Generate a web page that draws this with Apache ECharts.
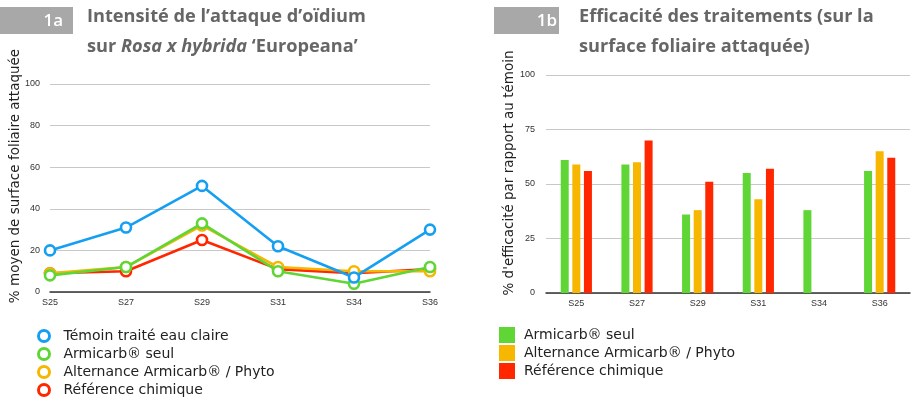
<!DOCTYPE html>
<html>
<head>
<meta charset="utf-8">
<script src="https://cdn.jsdelivr.net/npm/echarts@6/dist/echarts.min.js"></script>
<style>
  html, body { margin: 0; padding: 0; background: #fff; }
  #wrap { position: relative; width: 912px; height: 400px; }
  #c1 { position: absolute; left: 0; top: 0; width: 456px; height: 400px; }
  #c2 { position: absolute; left: 456px; top: 0; width: 456px; height: 400px; }
</style>
</head>
<body>
<div id="wrap"><div id="c1"></div><div id="c2"></div></div>
<script>
// Sampling weeks
const weeks = ['S25', 'S27', 'S29', 'S31', 'S34', 'S36'];

// 1a — mean % of leaf area attacked
const temoin = [20, 31, 51, 22, 7, 30];
const armicarbSeul = [8, 12, 33, 10, 4, 12];
const alternance = [9, 12, 32, 12, 10, 10];
const referenceChim = [9, 10, 25, 11, 9, 11];
const yTicks1 = [0, 20, 40, 60, 80, 100];

// 1b — % efficacy compared with the untreated control
const effArmicarb = [61, 59, 36, 55, 38, 56];
const effAlternance = [59, 60, 38, 43, null, 65];
const effReference = [56, 70, 51, 57, null, 62];
const yTicks2 = [0, 25, 50, 75, 100];

const names = ['Témoin traité eau claire', 'Armicarb® seul', 'Alternance Armicarb® / Phyto', 'Référence chimique'];
const colors = { blue: '#159FF2', green: '#5FD636', orange: '#F7B600', red: '#FF2600' };

const sans = '"Liberation Sans", Arial, sans-serif';
const wide = '"DejaVu Sans", Verdana, sans-serif';
const titleFont = '"Open Sans", "Noto Sans", sans-serif';

function lineSeries(name, data, color, z) {
  return {
    name, type: 'line', data, z,
    symbol: 'circle', symbolSize: 10,
    lineStyle: { color, width: 2.6 },
    itemStyle: { color: '#fff', borderColor: color, borderWidth: 2.6 },
    emphasis: { disabled: true },
    animation: false
  };
}

const chart1 = echarts.init(document.getElementById('c1'));
chart1.setOption({
  animation: false,
  title: {
    left: 87, top: 2, padding: 0,
    text: '{a|Intensité de l’attaque d’oïdium}\n{a|sur }{i|Rosa x hybrida}{a| ‘Europeana’}',
    textStyle: {
      rich: {
        a: { fontFamily: titleFont, fontWeight: 'bold', fontSize: 18.2, color: '#666', lineHeight: 30 },
        i: { fontFamily: titleFont, fontWeight: 'bold', fontStyle: 'italic', fontSize: 18.2, color: '#666', lineHeight: 30 }
      }
    }
  },
  graphic: [
    { type: 'rect', shape: { x: 0, y: 7, width: 73, height: 27 }, style: { fill: '#A8A8A8' }, silent: true },
    { type: 'text', x: 63, y: 21, style: { text: '1a', fill: '#fff', font: '600 17px ' + titleFont, align: 'right', verticalAlign: 'middle' } },
    { type: 'text', x: 15, y: 176, rotation: Math.PI / 2, style: { text: '% moyen de surface foliaire attaquée', fill: '#222', font: '13.5px ' + wide, align: 'center', verticalAlign: 'middle' } }
  ],
  grid: { left: 50, right: 26, top: 84, bottom: 108 },
  xAxis: {
    type: 'category', data: weeks, boundaryGap: false,
    axisLine: { lineStyle: { color: '#333', width: 1.5 } },
    axisTick: { show: false },
    axisLabel: { color: '#333', fontSize: 9, fontFamily: sans, margin: 6 }
  },
  yAxis: {
    type: 'value', min: yTicks1[0], max: yTicks1[yTicks1.length - 1], interval: 20,
    axisLine: { show: false }, axisTick: { show: false },
    axisLabel: { color: '#333', fontSize: 9, fontFamily: sans, margin: 10 },
    splitLine: { lineStyle: { color: '#c8c8c8', width: 1 } }
  },
  legend: {
    orient: 'vertical', left: 37, top: 328, padding: 0,
    itemWidth: 11, itemHeight: 11, itemGap: 2,
    textStyle: { fontSize: 14, fontFamily: wide, color: '#222', lineHeight: 16, padding: [0, 0, 0, 9] },
    data: [
      { name: names[0], icon: 'circle', itemStyle: { color: '#fff', borderColor: colors.blue, borderWidth: 3 } },
      { name: names[1], icon: 'circle', itemStyle: { color: '#fff', borderColor: colors.green, borderWidth: 3 } },
      { name: names[2], icon: 'circle', itemStyle: { color: '#fff', borderColor: colors.orange, borderWidth: 3 } },
      { name: names[3], icon: 'circle', itemStyle: { color: '#fff', borderColor: colors.red, borderWidth: 3 } }
    ],
    selectedMode: false
  },
  series: [
    lineSeries(names[3], referenceChim, colors.red, 2),
    lineSeries(names[2], alternance, colors.orange, 3),
    lineSeries(names[1], armicarbSeul, colors.green, 4),
    lineSeries(names[0], temoin, colors.blue, 5)
  ]
});

function barSeries(name, data, color) {
  return {
    name, type: 'bar', data, barWidth: 8, barGap: '45%',
    itemStyle: { color }, emphasis: { disabled: true }, animation: false
  };
}

const chart2 = echarts.init(document.getElementById('c2'));
chart2.setOption({
  animation: false,
  title: {
    left: 123, top: 2, padding: 0,
    text: 'Efficacité des traitements (sur la\nsurface foliaire attaquée)',
    textStyle: { fontFamily: titleFont, fontWeight: 'bold', fontSize: 18.2, color: '#666', lineHeight: 30 }
  },
  graphic: [
    { type: 'rect', shape: { x: 38, y: 7, width: 65, height: 27 }, style: { fill: '#A8A8A8' }, silent: true },
    { type: 'text', x: 101, y: 21, style: { text: '1b', fill: '#fff', font: '600 17px ' + titleFont, align: 'right', verticalAlign: 'middle' } },
    { type: 'text', x: 53.5, y: 173, rotation: Math.PI / 2, style: { text: '% d\'efficacité par rapport au témoin', fill: '#222', font: '13.5px ' + wide, align: 'center', verticalAlign: 'middle' } }
  ],
  grid: { left: 90, right: 2, top: 75, bottom: 107 },
  xAxis: {
    type: 'category', data: weeks,
    axisLine: { lineStyle: { color: '#333', width: 1.5 } },
    axisTick: { show: false },
    axisLabel: { color: '#333', fontSize: 9, fontFamily: sans, margin: 6 }
  },
  yAxis: {
    type: 'value', min: yTicks2[0], max: yTicks2[yTicks2.length - 1], interval: 25,
    axisLine: { show: false }, axisTick: { show: false },
    axisLabel: { color: '#333', fontSize: 9, fontFamily: sans, margin: 11 },
    splitLine: { lineStyle: { color: '#c8c8c8', width: 1 } }
  },
  legend: {
    orient: 'vertical', left: 43, top: 327, padding: 0,
    itemWidth: 16, itemHeight: 16, itemGap: 2,
    textStyle: { fontSize: 14, fontFamily: wide, color: '#222', lineHeight: 16, padding: [0, 0, 0, 4] },
    data: [
      { name: names[1], icon: 'rect', itemStyle: { color: colors.green } },
      { name: names[2], icon: 'rect', itemStyle: { color: colors.orange } },
      { name: names[3], icon: 'rect', itemStyle: { color: colors.red } }
    ],
    selectedMode: false
  },
  series: [
    barSeries(names[1], effArmicarb, colors.green),
    barSeries(names[2], effAlternance, colors.orange),
    barSeries(names[3], effReference, colors.red)
  ]
});
</script>
</body>
</html>
